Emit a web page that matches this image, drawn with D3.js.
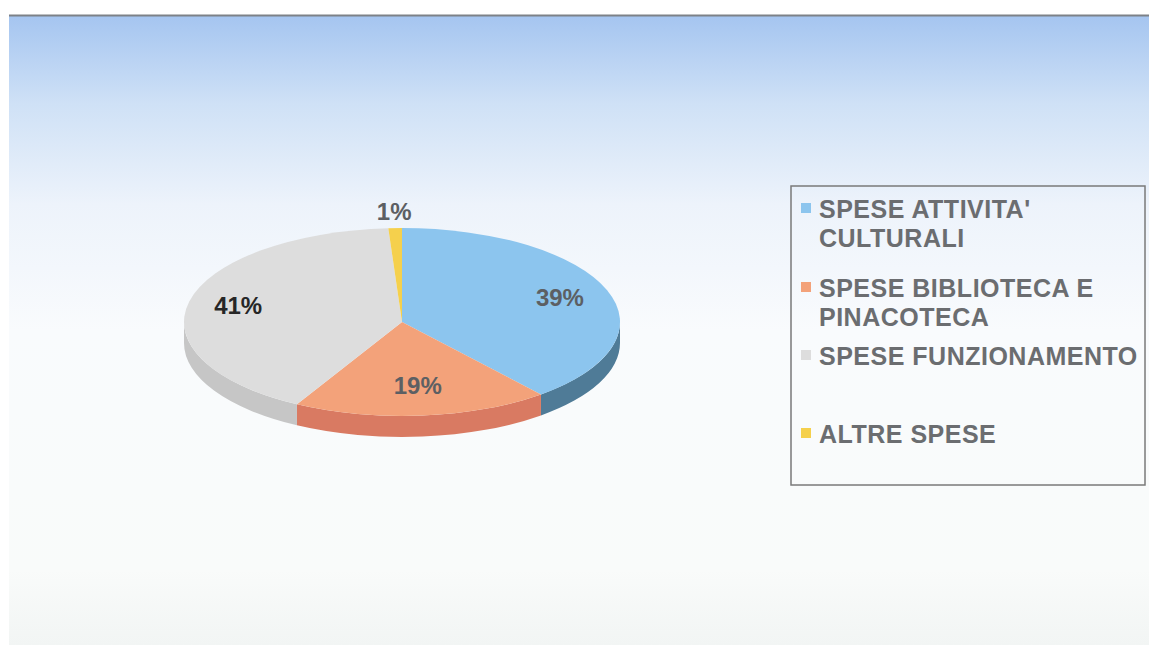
<!DOCTYPE html>
<html>
<head>
<meta charset="utf-8">
<script src="https://cdn.jsdelivr.net/npm/d3@7"></script>
<style>
  body { margin: 0; background: #fff; }
  svg { display: block; }
</style>
</head>
<body>
<div id="chart"></div>
<script>
// data
const categories = ["SPESE ATTIVITA' CULTURALI", "SPESE BIBLIOTECA E PINACOTECA", "SPESE FUNZIONAMENTO", "ALTRE SPESE"];
const legendLines = [["SPESE ATTIVITA'", "CULTURALI"], ["SPESE BIBLIOTECA E", "PINACOTECA"], ["SPESE FUNZIONAMENTO"], ["ALTRE SPESE"]];
const values = [39, 19, 41, 1];
const percentLabels = ["39%", "19%", "41%", "1%"];

// colours
const topColors = ['#8cc5ee', '#f3a27a', '#dddddd', '#f5d04c'];
const sideColors = ['#4f7b97', '#d97a62', '#c6c6c6', '#d8b440'];

const width = 1149, height = 645;
const cx = 402, cy = 322, rx = 218, ry = 94, depth = 21;

const svg = d3.select('#chart')
    .append('svg')
        .attr('width', width)
        .attr('height', height);

// background gradient
const defs = svg.append('defs');
const grad = defs.append('linearGradient')
    .attr('id', 'bg')
    .attr('x1', 0).attr('y1', 0).attr('x2', 0).attr('y2', 1);
[[0, '#a5c5f0'], [0.14, '#cfe1f6'], [0.3, '#edf3fb'], [0.5, '#f9fbfd'], [0.88, '#f9fbfa'], [1, '#f2f5f4']]
    .forEach(s => grad.append('stop').attr('offset', s[0]).attr('stop-color', s[1]));

svg.append('rect')
    .attr('x', 9).attr('y', 16)
    .attr('width', width - 9).attr('height', height - 16)
    .attr('fill', 'url(#bg)');
svg.append('line')
    .attr('x1', 9).attr('x2', width)
    .attr('y1', 15.5).attr('y2', 15.5)
    .attr('stroke', '#7d8187').attr('stroke-width', 2);

// pie layout, clockwise from 12 o'clock
const pie = d3.pie().sort(null).value(d => d)(values);

function pt(a, dy) {
    return [cx + rx * Math.sin(a), cy - ry * Math.cos(a) + (dy || 0)];
}

function topPath(d) {
    const p0 = pt(d.startAngle), p1 = pt(d.endAngle);
    const large = (d.endAngle - d.startAngle) > Math.PI ? 1 : 0;
    return `M${cx},${cy}L${p0}A${rx},${ry} 0 ${large} 1 ${p1}Z`;
}

function sidePath(d) {
    const s = Math.max(d.startAngle, Math.PI / 2);
    const e = Math.min(d.endAngle, Math.PI * 1.5);
    if (e <= s) return null;
    const p0 = pt(s), p1 = pt(e), q1 = pt(e, depth), q0 = pt(s, depth);
    return `M${p0}A${rx},${ry} 0 0 1 ${p1}L${q1}A${rx},${ry} 0 0 0 ${q0}Z`;
}

const pieG = svg.append('g');
pieG.selectAll('.side')
    .data(pie.filter(d => sidePath(d)))
    .enter()
    .append('path')
        .attr('class', 'side')
        .attr('d', sidePath)
        .attr('fill', d => sideColors[d.index]);

pieG.selectAll('.top')
    .data(pie)
    .enter()
    .append('path')
        .attr('class', 'top')
        .attr('d', topPath)
        .attr('fill', d => topColors[d.index]);

// percent labels (small slices go outside)
function labelPos(d) {
    const a = (d.startAngle + d.endAngle) / 2;
    const small = (d.endAngle - d.startAngle) < 0.2;
    const fx = small ? 1.15 : 0.77, fy = small ? 1.15 : 0.7;
    return [cx + rx * fx * Math.sin(a), cy - ry * fy * Math.cos(a) + 6];
}
pieG.selectAll('.lbl')
    .data(pie)
    .enter()
    .append('text')
        .attr('class', 'lbl')
        .attr('x', d => labelPos(d)[0])
        .attr('y', d => labelPos(d)[1])
        .attr('text-anchor', 'middle')
        .style('font-family', '"Liberation Sans", Arial, sans-serif')
        .style('font-weight', 'bold')
        .style('font-size', '24px')
        .style('fill', (d, i) => i === 2 ? '#262626' : '#5c5f63')
        .text((d, i) => percentLabels[i]);

// legend
const legendBaselines = [218, 297, 365, 443];
svg.append('rect')
    .attr('x', 791).attr('y', 186)
    .attr('width', 354).attr('height', 299)
    .attr('fill', 'none')
    .attr('stroke', '#7a7a7a')
    .attr('stroke-width', 1.5);

const legend = svg.selectAll('.legend')
    .data(categories)
    .enter()
    .append('g')
        .attr('class', 'legend')
        .attr('transform', (d, i) => `translate(0, ${legendBaselines[i]})`);

legend.append('rect')
    .attr('x', 801).attr('y', -15)
    .attr('width', 10).attr('height', 10)
    .attr('fill', (d, i) => topColors[i]);

legend.append('text')
    .attr('x', 819)
    .style('font-family', '"Liberation Sans", Arial, sans-serif')
    .style('font-weight', 'bold')
    .style('font-size', '25px')
    .style('letter-spacing', '0.5px')
    .style('fill', '#6b6d70')
    .each(function(d, i) {
        d3.select(this).selectAll('tspan')
            .data(legendLines[i])
            .enter()
            .append('tspan')
                .attr('x', 819)
                .attr('dy', (t, j) => j === 0 ? 0 : 29)
                .text(t => t);
    });
</script>
</body>
</html>
